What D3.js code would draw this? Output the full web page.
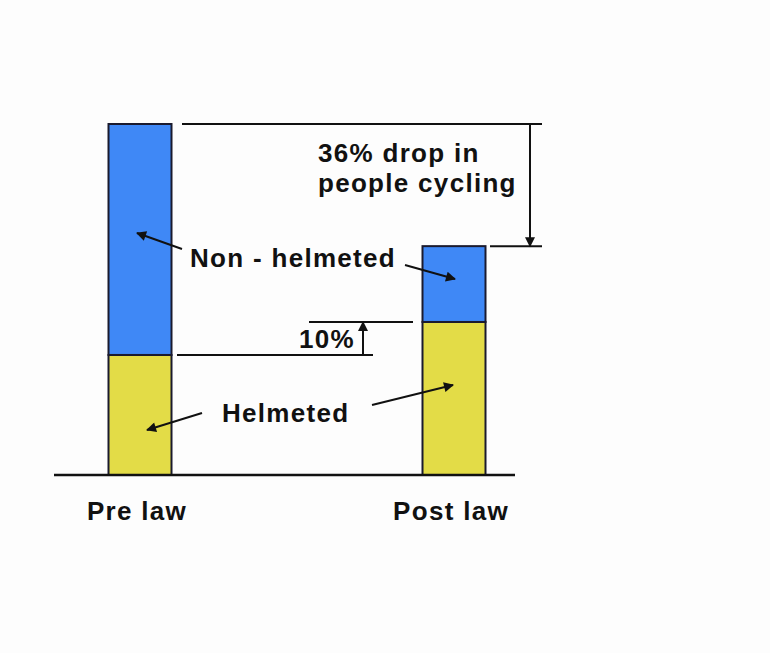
<!DOCTYPE html>
<html>
<head>
<meta charset="utf-8">
<script src="https://cdn.jsdelivr.net/npm/d3@7"></script>
<style>
  body { margin: 0; background: #fdfdfd; }
  text { font-family: "Liberation Sans", Arial, sans-serif; font-weight: bold; fill: #111; }
</style>
</head>
<body>
<script>
const w = 770, h = 653;

// share of pre-law cyclists (pre-law total = 100)
const periods = ["Pre law", "Post law"];
const helmeted = [34.2, 43.6];
const nonHelmeted = [65.8, 21.6];
const seriesNames = ["Helmeted", "Non - helmeted"];
const dropLabel = ["36% drop in", "people cycling"];
const riseLabel = "10%";

const colors = { "Helmeted": "#e3dc47", "Non - helmeted": "#3f88f6" };

const rows = periods.map((p, i) => ({ period: p, "Helmeted": helmeted[i], "Non - helmeted": nonHelmeted[i] }));
const stacked = d3.stack().keys(seriesNames)(rows);

const x = d3.scalePoint().domain(periods).range([140, 454]);
const y = d3.scaleLinear().domain([0, 100]).range([475, 124]);
const barW = 63;
const ls = '1.3px';

const svg = d3.select('body').append('svg')
  .attr('width', w).attr('height', h);

svg.append('rect').attr('width', w).attr('height', h).attr('fill', '#fdfdfd');

const defs = svg.append('defs');
defs.append('marker')
  .attr('id', 'headBig')
  .attr('viewBox', '0 0 10 10')
  .attr('refX', 9).attr('refY', 5)
  .attr('markerWidth', 15).attr('markerHeight', 10)
  .attr('markerUnits', 'userSpaceOnUse')
  .attr('orient', 'auto')
  .append('path').attr('d', 'M0,0L10,5L0,10Z').attr('fill', '#111');

// bars
svg.selectAll('g.series')
  .data(stacked)
  .enter().append('g')
  .attr('class', 'series')
  .attr('fill', d => colors[d.key])
  .selectAll('rect')
  .data(d => d)
  .enter().append('rect')
  .attr('x', d => x(d.data.period) - barW / 2)
  .attr('y', d => y(d[1]))
  .attr('width', barW)
  .attr('height', d => y(d[0]) - y(d[1]))
  .attr('stroke', '#1a1a2e')
  .attr('stroke-width', 2);

// baseline
svg.append('line')
  .attr('x1', 54).attr('x2', 515)
  .attr('y1', y(0)).attr('y2', y(0))
  .attr('stroke', '#111').attr('stroke-width', 2.5);

// period labels
svg.selectAll('text.period')
  .data(periods)
  .enter().append('text')
  .attr('class', 'period')
  .attr('x', d => x(d) - 3)
  .attr('y', 520)
  .attr('text-anchor', 'middle')
  .attr('font-size', '26px')
  .attr('letter-spacing', ls)
  .text(d => d);

const preTotal = helmeted[0] + nonHelmeted[0];
const postTotal = helmeted[1] + nonHelmeted[1];

const line = (x1, y1, x2, y2, marker) => {
  const l = svg.append('line')
    .attr('x1', x1).attr('y1', y1).attr('x2', x2).attr('y2', y2)
    .attr('stroke', '#111').attr('stroke-width', 2);
  if (marker) l.attr('marker-end', `url(#${marker})`);
  return l;
};

// 36% drop bracket
line(182, y(preTotal), 542, y(preTotal));
line(490, y(postTotal), 542, y(postTotal));
line(530, y(preTotal), 530, y(postTotal), 'headBig');
svg.selectAll('text.drop')
  .data(dropLabel)
  .enter().append('text')
  .attr('class', 'drop')
  .attr('x', 318)
  .attr('y', (d, i) => 162 + i * 30)
  .attr('font-size', '26px')
  .attr('letter-spacing', ls)
  .text(d => d);

// 10% rise
line(177, y(helmeted[0]), 373, y(helmeted[0]));
line(309, y(helmeted[1]), 413, y(helmeted[1]));
line(363, y(helmeted[0]), 363, y(helmeted[1]), 'headBig');
svg.append('text')
  .attr('x', 299).attr('y', 348)
  .attr('font-size', '26px')
  .attr('letter-spacing', ls)
  .text(riseLabel);

// series labels with pointers
svg.append('text')
  .attr('x', 190).attr('y', 267)
  .attr('font-size', '26px')
  .attr('letter-spacing', ls)
  .text(seriesNames[1]);
line(182, 249, 137, 233, 'headBig');
line(405, 265, 455, 279, 'headBig');

svg.append('text')
  .attr('x', 222).attr('y', 422)
  .attr('font-size', '26px')
  .attr('letter-spacing', ls)
  .text(seriesNames[0]);
line(202, 413, 147, 430, 'headBig');
line(372, 405, 453, 385, 'headBig');
</script>
</body>
</html>
